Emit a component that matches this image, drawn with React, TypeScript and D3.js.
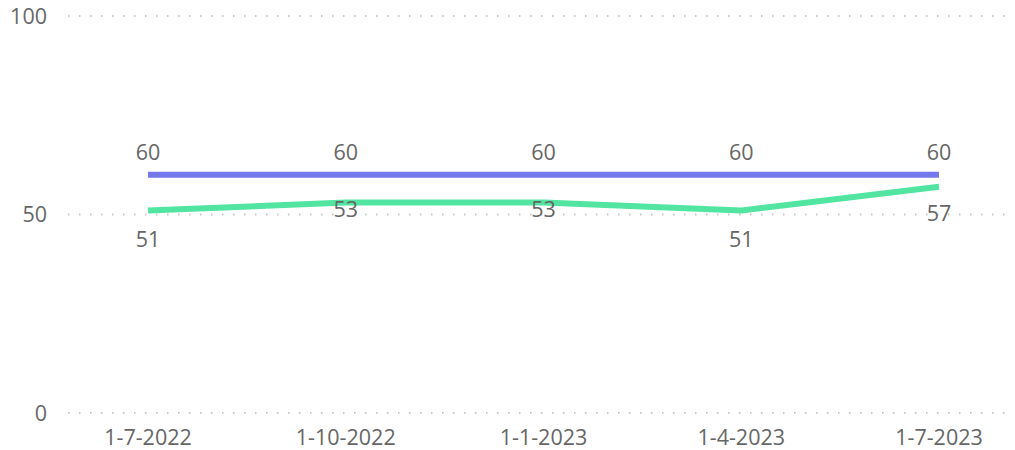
import React from "react";
import * as d3 from "d3";

const categories = ["1-7-2022", "1-10-2022", "1-1-2023", "1-4-2023", "1-7-2023"];
const targetValues = [60, 60, 60, 60, 60];
const actualValues = [51, 53, 53, 51, 57];
const yTicks = [0, 50, 100];

const W = 1015;
const H = 450;
const BLUE = "#7577EC";
const GREEN = "#52E5A2";
const TEXT = "#666666";
const FONT = "'Segoe UI', 'Open Sans', sans-serif";
const FS = 21.5;
// label offset below the green line (collision avoidance style)
const greenLabelDy = [29, 7, 7, 29, 27];

export default function App() {
  const x = d3.scalePoint<string>().domain(categories).range([148, 939]);
  const y = d3.scaleLinear().domain([0, 100]).range([413, 16]);

  const line = d3
    .line<number>()
    .x((_, i) => x(categories[i]) as number)
    .y((d) => y(d))
    .curve(d3.curveLinear);

  return (
    <svg
      width={W}
      height={H}
      style={{ position: "absolute", left: 0, top: 0 }}
      fontFamily={FONT}
    >
      {yTicks.map((t) => (
        <g key={t}>
          <line
            x1={68}
            x2={1012}
            y1={y(t)}
            y2={y(t)}
            stroke="#C8C8C8"
            strokeWidth={2}
            strokeDasharray="1.5,9.5"
          />
          <text
            x={47}
            y={y(t)}
            dy="0.35em"
            textAnchor="end"
            fontSize={FS}
            fill={TEXT}
          >
            {t}
          </text>
        </g>
      ))}
      {categories.map((c) => (
        <text
          key={c}
          x={x(c) as number}
          y={437}
          dy="0.35em"
          textAnchor="middle"
          fontSize={FS}
          fill={TEXT}
        >
          {c}
        </text>
      ))}
      <path d={line(targetValues) || ""} fill="none" stroke={BLUE} strokeWidth={6} />
      <path
        d={line(actualValues) || ""}
        fill="none"
        stroke={GREEN}
        strokeWidth={6}
        strokeLinejoin="round"
      />
      {targetValues.map((v, i) => (
        <text
          key={"t" + i}
          x={x(categories[i]) as number}
          y={y(v) - 22}
          dy="0.35em"
          textAnchor="middle"
          fontSize={FS}
          fill={TEXT}
        >
          {v}
        </text>
      ))}
      {actualValues.map((v, i) => (
        <text
          key={"a" + i}
          x={x(categories[i]) as number}
          y={y(v) + greenLabelDy[i]}
          dy="0.35em"
          textAnchor="middle"
          fontSize={FS}
          fill={TEXT}
        >
          {v}
        </text>
      ))}
    </svg>
  );
}
